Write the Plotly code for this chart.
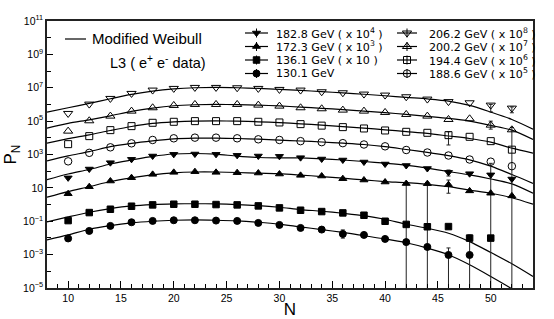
import plotly.graph_objects as go

# ---------------- data (log10 of scaled P_N) ----------------
N_data = [10, 12, 14, 16, 18, 20, 22, 24, 26, 28, 30, 32, 34, 36, 38, 40, 42, 44, 46, 48, 50, 52]
N_fit = [8, 10, 12, 14, 16, 18, 20, 22, 24, 26, 28, 30, 32, 34, 36, 38, 40, 42, 44, 46, 48, 50, 52, 54]

p130 = [-2.03, -1.58, -1.28, -1.06, -0.98, -0.94, -0.94, -0.96, -0.98, -1.10, -1.22, -1.40, -1.50,
        -1.76, -1.82, -2.06, -2.25, -2.54, -3.02, -3.02]
p136 = [-0.96, -0.48, -0.28, -0.10, -0.02, 0.02, 0.02, 0.00, -0.02, -0.08, -0.20, -0.34, -0.42,
        -0.50, -0.64, -1.00, -1.19, -1.33, -1.32, -2.01, -2.01]
p172 = [0.65, 1.07, 1.41, 1.61, 1.81, 1.93, 1.97, 1.93, 1.91, 1.89, 1.83, 1.75, 1.71, 1.55, 1.47,
        1.35, 1.26, 1.25, 1.19, 0.82, 0.68, 0.52]
p182 = [1.60, 2.13, 2.51, 2.71, 2.91, 3.01, 3.03, 3.01, 2.95, 2.91, 2.89, 2.81, 2.73, 2.67, 2.55,
        2.43, 2.34, 2.16, 1.93, 1.85, 1.78, 1.53]
p188 = [2.59, 3.10, 3.43, 3.67, 3.87, 3.97, 4.01, 4.01, 3.97, 3.91, 3.87, 3.80, 3.74, 3.68, 3.60,
        3.49, 3.27, 3.12, 2.94, 2.70, 2.57, 2.30]
p194 = [3.62, 4.10, 4.46, 4.70, 4.90, 4.96, 5.00, 5.00, 5.00, 4.96, 4.92, 4.82, 4.73, 4.64, 4.56,
        4.44, 4.36, 4.30, 4.16, 4.06, 3.80, 3.29]
p200 = [4.40, 5.02, 5.30, 5.60, 5.80, 5.94, 6.00, 6.00, 6.00, 5.96, 5.90, 5.80, 5.74, 5.66, 5.60,
        5.52, 5.40, 5.30, 5.10, 5.14, 4.76, 4.48]
p206 = [5.46, 6.02, 6.36, 6.66, 6.86, 6.96, 7.02, 7.02, 7.00, 6.96, 6.90, 6.86, 6.76, 6.70, 6.62,
        6.56, 6.46, 6.32, 6.17, 6.10, 5.96, 5.78]

# Modified Weibull fit curves (log10), read at N_fit
f130 = [-2.12, -1.82, -1.48, -1.26, -1.10, -1.00, -0.94, -0.92, -0.94, -0.98, -1.06, -1.17, -1.34,
        -1.50, -1.67, -1.87, -2.06, -2.29, -2.61, -3.01, -3.61, -4.31, -5.05, -5.90]
f136 = [-1.04, -0.74, -0.46, -0.24, -0.08, 0.00, 0.04, 0.05, 0.04, 0.00, -0.06, -0.16, -0.30,
        -0.40, -0.52, -0.66, -0.88, -1.18, -1.42, -1.72, -2.22, -2.87, -3.55, -4.31]
f172 = [0.44, 0.78, 1.07, 1.38, 1.60, 1.78, 1.90, 1.95, 1.95, 1.92, 1.88, 1.85, 1.77, 1.68, 1.58,
        1.48, 1.38, 1.31, 1.21, 1.07, 0.87, 0.68, 0.41, 0.02]
f182 = [1.49, 1.83, 2.10, 2.43, 2.67, 2.89, 3.03, 3.06, 3.02, 2.90, 2.82, 2.80, 2.80, 2.74, 2.67,
        2.58, 2.48, 2.36, 2.18, 1.98, 1.78, 1.53, 1.24, 0.68]
f188 = [2.62, 2.92, 3.17, 3.47, 3.67, 3.82, 3.94, 3.98, 3.98, 3.96, 3.92, 3.86, 3.81, 3.75, 3.68,
        3.60, 3.47, 3.30, 3.13, 2.93, 2.68, 2.30, 1.80, 1.27]
f194 = [3.68, 3.95, 4.18, 4.44, 4.68, 4.86, 4.95, 5.00, 5.01, 5.00, 4.96, 4.91, 4.84, 4.76, 4.67,
        4.58, 4.48, 4.37, 4.26, 4.11, 3.96, 3.74, 3.38, 3.08]
f200 = [4.58, 4.86, 5.08, 5.32, 5.58, 5.78, 5.92, 5.98, 6.00, 5.99, 5.96, 5.91, 5.84, 5.77, 5.69,
        5.60, 5.51, 5.40, 5.28, 5.16, 5.00, 4.74, 4.46, 3.90]
f206 = [5.54, 5.80, 6.06, 6.34, 6.60, 6.80, 6.93, 7.00, 7.02, 7.00, 6.96, 6.90, 6.84, 6.77, 6.69,
        6.61, 6.52, 6.42, 6.33, 6.20, 5.94, 5.54, 5.10, 4.52]

# error bars: N, upper bound (log10), lower bound (log10, None = down to zero)
e130_N, e130_hi, e130_lo = [36, 46], [-1.52, -2.60], [-2.01, None]
e136_N, e136_hi, e136_lo = [48], [-1.82], [None]
e172_N, e172_hi, e172_lo = [42, 44, 46], [1.32, 1.32, 1.47], [None, None, 0.68]
e182_N, e182_hi, e182_lo = [46, 50], [2.07, 2.47], [1.71, None]
e194_N, e194_hi, e194_lo = [46], [4.36], [3.57]
e200_N, e200_hi, e200_lo = [50, 52], [5.00, 4.62], [4.52, None]
e206_N, e206_hi, e206_lo = [50, 52], [6.00, 5.85], [5.56, 5.50]

labels = {
    "182": "182.8 GeV ( x 10<sup>4</sup> )",
    "172": "172.3 GeV ( x 10<sup>3</sup> )",
    "136": "136.1 GeV ( x 10 )",
    "130": "130.1 GeV",
    "206": "206.2 GeV ( x 10<sup>8</sup> )",
    "200": "200.2 GeV ( x 10<sup>7</sup> )",
    "194": "194.4 GeV ( x 10<sup>6</sup> )",
    "188": "188.6 GeV ( x 10<sup>5</sup> )",
}
y_exp = [-5, -3, -1, 1, 3, 5, 7, 9, 11]
y_minor_exp = [-4, -2, 0, 2, 4, 6, 8, 10]

# ---------------- styling ----------------
FONT = "Liberation Sans, Arial, Helvetica, sans-serif"
LFONT = "DejaVu Sans, Verdana, sans-serif"
W, H = 554, 319
ML, MR, MT, MB = 47, 21, 21, 31
PW, PH = W - ML - MR, H - MT - MB

styles = {
    "130": ("circle", 7),
    "136": ("square", 6.5),
    "172": ("triangle-up", 7),
    "182": ("triangle-down", 7),
    "188": ("circle-open", 7.5),
    "194": ("square-open", 7),
    "200": ("triangle-up-open", 8),
    "206": ("triangle-down-open", 8),
}

series = {
    "130": (p130, f130, (e130_N, e130_hi, e130_lo)),
    "136": (p136, f136, (e136_N, e136_hi, e136_lo)),
    "172": (p172, f172, (e172_N, e172_hi, e172_lo)),
    "182": (p182, f182, (e182_N, e182_hi, e182_lo)),
    "188": (p188, f188, ([], [], [])),
    "194": (p194, f194, (e194_N, e194_hi, e194_lo)),
    "200": (p200, f200, (e200_N, e200_hi, e200_lo)),
    "206": (p206, f206, (e206_N, e206_hi, e206_lo)),
}


def pw(vals):
    return [10.0 ** v for v in vals]


fig = go.Figure()

# fit curves
for key, (pv, fv, err) in series.items():
    fig.add_trace(go.Scatter(x=N_fit, y=pw(fv), mode="lines",
                             line=dict(color="black", width=1.2, shape="spline", smoothing=0.8),
                             hoverinfo="skip", showlegend=False))

# error bars
for key, (pv, fv, err) in series.items():
    eN, ehi, elo = err
    if not eN:
        continue
    yv, plus, minus = [], [], []
    for n, hi, lo in zip(eN, ehi, elo):
        v = 10.0 ** pv[N_data.index(n)]
        yv.append(v)
        plus.append(10.0 ** hi - v)
        minus.append(v if lo is None else v - 10.0 ** lo)
    fig.add_trace(go.Scatter(x=eN, y=yv, mode="markers",
                             marker=dict(color="rgba(0,0,0,0)", size=1),
                             error_y=dict(type="data", symmetric=False, array=plus, arrayminus=minus,
                                          color="#222", thickness=1, width=2),
                             hoverinfo="skip", showlegend=False))

# data markers
for key, (pv, fv, err) in series.items():
    sym, sz = styles[key]
    fig.add_trace(go.Scatter(x=N_data[:len(pv)], y=pw(pv), mode="markers",
                             marker=dict(symbol=sym, size=sz, color="black",
                                         line=dict(color="black", width=1)),
                             name=labels[key], showlegend=False))

# ---------------- hand-drawn legend on an overlay [0,1] axis pair ----------------
def fx(px):
    return (px - ML) / PW


def fy(py):
    return (MT + PH - py) / PH


# Modified Weibull sample
fig.add_trace(go.Scatter(x=[fx(65), fx(86)], y=[fy(39), fy(39)], mode="lines",
                         line=dict(color="black", width=1.2), xaxis="x2", yaxis="y2",
                         hoverinfo="skip", showlegend=False))

annotations = [
    dict(text="Modified Weibull", x=fx(90), y=fy(38.5), xref="paper", yref="paper",
         xanchor="left", yanchor="middle", showarrow=False, font=dict(size=15, family=FONT, color="black")),
    dict(text="L3 ( e<sup>+</sup> e<sup>-</sup> data)", x=fx(108), y=fy(62), xref="paper", yref="paper",
         xanchor="left", yanchor="middle", showarrow=False, font=dict(size=14.5, family=FONT, color="black")),
]

rows_y = [33, 46.5, 60, 73.5]
cols = [
    (245, 268, 274, ["182", "172", "136", "130"]),
    (397, 417, 427, ["206", "200", "194", "188"]),
]
stem = 4.5 / PH
for x0, x1, xt, keys in cols:
    for ry, key in zip(rows_y, keys):
        sym, sz = styles[key]
        fig.add_trace(go.Scatter(x=[fx(x0), fx(x1)], y=[fy(ry), fy(ry)], mode="lines",
                                 line=dict(color="black", width=1.2), xaxis="x2", yaxis="y2",
                                 hoverinfo="skip", showlegend=False))
        fig.add_trace(go.Scatter(x=[fx((x0 + x1) / 2)], y=[fy(ry)], mode="markers",
                                 marker=dict(symbol=sym, size=sz, color="black",
                                             line=dict(color="black", width=1)),
                                 error_y=dict(type="constant", value=stem, color="black", thickness=1, width=0),
                                 xaxis="x2", yaxis="y2", hoverinfo="skip", showlegend=False))
        annotations.append(dict(text=labels[key], x=fx(xt), y=fy(ry), xref="paper", yref="paper",
                                xanchor="left", yanchor="middle", showarrow=False,
                                font=dict(size=11.1, family=LFONT, color="black")))

# ---------------- axes ----------------
def ytxt(e):
    if e == 1:
        return "10"
    return "10<sup>" + (("\u2212" + str(-e)) if e < 0 else str(e)) + "</sup>"


fig.update_layout(
    width=W, height=H,
    margin=dict(l=ML, r=MR, t=MT, b=MB, autoexpand=False),
    paper_bgcolor="white", plot_bgcolor="white",
    font=dict(family=FONT, color="black"),
    showlegend=False,
    annotations=annotations,
    xaxis=dict(range=[8, 54], tickmode="linear", tick0=10, dtick=5,
               ticks="inside", ticklen=7, tickwidth=1, tickcolor="black",
               minor=dict(dtick=1, tick0=8, ticks="inside", ticklen=4, tickwidth=1, tickcolor="black"),
               showline=True, linecolor="#222", linewidth=1.5, mirror=True,
               showgrid=False, zeroline=False,
               tickfont=dict(size=10.5, family=FONT, color="black"),
               title=dict(text="N", font=dict(size=17, family=FONT, color="black"), standoff=2)),
    yaxis=dict(type="log", range=[-5, 11],
               tickmode="array", tickvals=[10.0 ** e for e in y_exp], ticktext=[ytxt(e) for e in y_exp],
               ticks="inside", ticklen=6, tickwidth=1, tickcolor="black",
               minor=dict(tickmode="array", tickvals=[10.0 ** e for e in y_minor_exp],
                          ticks="inside", ticklen=4, tickwidth=1, tickcolor="black"),
               showline=True, linecolor="#222", linewidth=1.5, mirror=True,
               showgrid=False, zeroline=False,
               tickfont=dict(size=10.5, family=FONT, color="black"),
               title=dict(text="P<sub>N</sub>", font=dict(size=17, family=FONT, color="black"), standoff=2)),
    xaxis2=dict(overlaying="x", range=[0, 1], visible=False, fixedrange=True),
    yaxis2=dict(overlaying="y", range=[0, 1], visible=False, fixedrange=True),
)

fig.write_html("out.html", config={"displayModeBar": False},
               post_script="document.body.style.margin='0';document.body.style.padding='0';")
